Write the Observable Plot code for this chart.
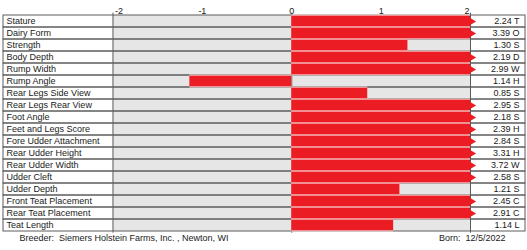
<!DOCTYPE html>
<html>
<head>
<meta charset="utf-8">
<script src="https://cdn.jsdelivr.net/npm/d3@7"></script>
<script src="https://cdn.jsdelivr.net/npm/@observablehq/plot@0.6"></script>
<style>
  body { margin: 0; background: #fff; }
  svg { display: block; }
</style>
</head>
<body>
<div id="chart"></div>
<script>
// Linear trait profile
const traits = [
  "Stature", "Dairy Form", "Strength", "Body Depth", "Rump Width", "Rump Angle",
  "Rear Legs Side View", "Rear Legs Rear View", "Foot Angle", "Feet and Legs Score",
  "Fore Udder Attachment", "Rear Udder Height", "Rear Udder Width", "Udder Cleft",
  "Udder Depth", "Front Teat Placement", "Rear Teat Placement", "Teat Length"
];
const values = [2.24, 3.39, 1.30, 2.19, 2.99, -1.14, 0.85, 2.95, 2.18, 2.39, 2.84, 3.31, 3.72, 2.58, 1.21, 2.45, 2.91, 1.14];
const codes = ["T", "O", "S", "D", "W", "H", "S", "S", "S", "H", "S", "H", "W", "S", "S", "C", "C", "L"];
const xTicks = [-2, -1, 0, 1, 2];
const breeder = "Breeder:\u00a0 Siemers Holstein Farms, Inc. , Newton, WI";
const born = "Born:\u00a0 12/5/2022";

const lo = xTicks[0], hi = xTicks[xTicks.length - 1];
const rows = traits.map((trait, i) => ({trait, value: values[i], code: codes[i]}));
const clip = v => Math.max(lo, Math.min(hi, v));
const over = rows.filter(d => d.value > hi);

const red = "#ec1c24";
const line = "#5c5c5c";

const chart = Plot.plot({
  width: 527,
  height: 250,
  marginLeft: 3,
  marginRight: 2,
  marginTop: 12.7,
  marginBottom: 17.3,
  x: {domain: [lo, hi], range: [112.5, 470], axis: null},
  y: {domain: traits, padding: 0, axis: null},
  style: {fontFamily: "'Liberation Sans', Arial, sans-serif", fontSize: "9px", color: "#1a1a1a", background: "#fff"},
  marks: [
    // grey plotting field
    Plot.barX(rows, {y: "trait", x1: lo, x2: hi, fill: "#e6e6e6"}),
    // table rows
    Plot.cell(rows, {y: "trait", fill: "none", stroke: line, strokeWidth: 1}),
    Plot.ruleX([lo, 0, hi], {stroke: line, strokeWidth: 1}),
    // bars with a pale separator between neighbours
    Plot.barX(rows, {y: "trait", x1: 0, x2: d => clip(d.value), fill: "#f7dcdc", insetTop: -0.5, insetBottom: -0.5}),
    Plot.barX(rows, {y: "trait", x1: 0, x2: d => clip(d.value), fill: red, insetTop: 0.6, insetBottom: 0.6}),
    // arrow tips for values beyond the axis
    Plot.dot(over, {x: hi, y: "trait", symbol: "triangle", rotate: 90, r: 3.3, fill: red, stroke: "none", dx: 0.5}),
    // trait names and values
    Plot.text(rows, {y: "trait", text: "trait", frameAnchor: "left", textAnchor: "start", dx: 3}),
    Plot.text(rows, {y: "trait", text: d => `${Math.abs(d.value).toFixed(2)} ${d.code}`, frameAnchor: "right", textAnchor: "end", dx: -6}),
    // axis labels
    Plot.text([lo], {x: d => d, text: d => String(d), frameAnchor: "top", textAnchor: "start", dy: -6, dx: 2}),
    Plot.text(xTicks.slice(1, -1), {x: d => d, text: d => String(d), frameAnchor: "top", textAnchor: "middle", dy: -6}),
    Plot.text([hi], {x: d => d, text: d => String(d), frameAnchor: "top", textAnchor: "end", dy: -6, dx: -1}),
    // footer
    Plot.text([breeder], {frameAnchor: "bottom-left", textAnchor: "start", dx: 16, dy: 8}),
    Plot.text([born], {frameAnchor: "bottom-right", textAnchor: "end", dx: -20, dy: 8})
  ]
});

document.getElementById("chart").append(chart);
</script>
</body>
</html>
